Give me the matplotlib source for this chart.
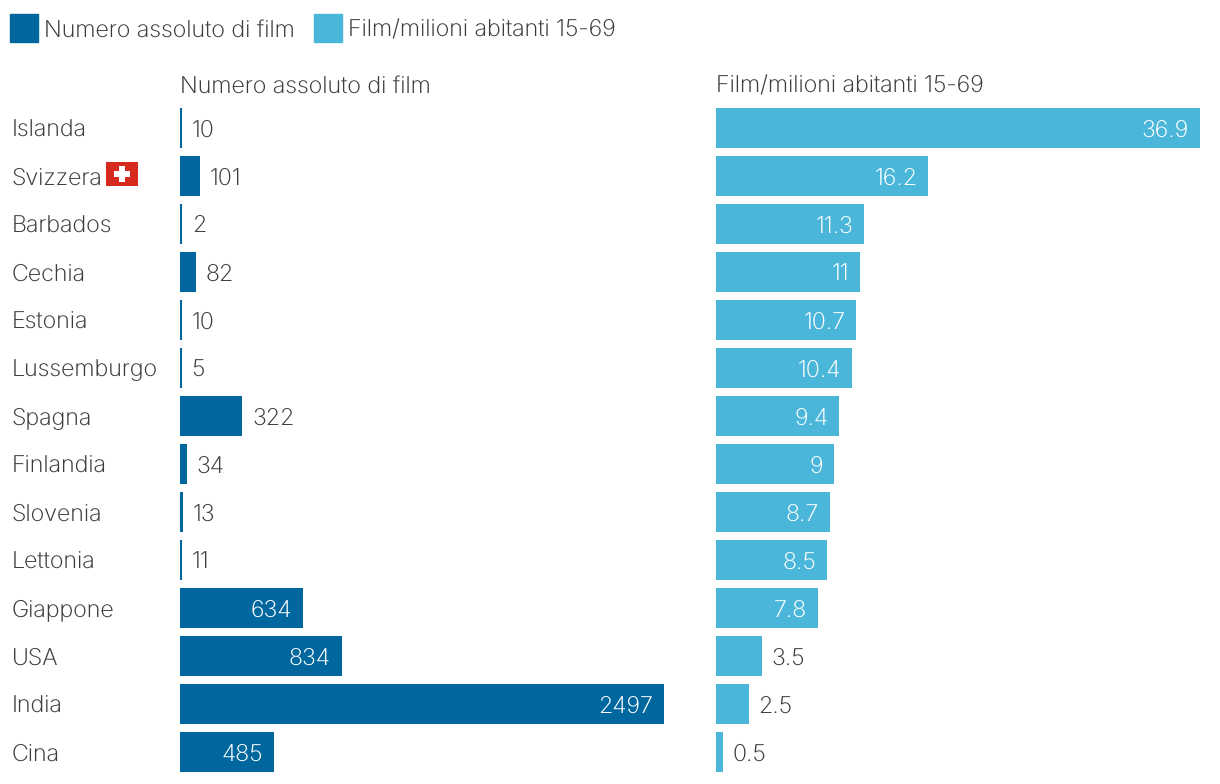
import matplotlib
matplotlib.use("Agg")
import matplotlib.pyplot as plt
from matplotlib.patches import Rectangle

paesi = ["Islanda", "Svizzera", "Barbados", "Cechia", "Estonia", "Lussemburgo", "Spagna",
         "Finlandia", "Slovenia", "Lettonia", "Giappone", "USA", "India", "Cina"]
film_assoluti = [10, 101, 2, 82, 10, 5, 322, 34, 13, 11, 634, 834, 2497, 485]
film_per_milione = [36.9, 16.2, 11.3, 11, 10.7, 10.4, 9.4, 9, 8.7, 8.5, 7.8, 3.5, 2.5, 0.5]
titolo_sx = "Numero assoluto di film"
titolo_dx = "Film/milioni abitanti 15-69"

BLU = "#00679e"
AZZURRO = "#4ab7da"
TESTO = "#3c3c3c"
W, H = 1220, 784
CORPO = 16.7

plt.rcParams["font.family"] = ["Inter", "DejaVu Sans"]
plt.rcParams["text.hinting"] = "no_hinting"
plt.rcParams["text.hinting_factor"] = 1


def assi(fig, x0, x1, y0, y1):
    return fig.add_axes([x0 / W, 1 - y1 / H, (x1 - x0) / W, (y1 - y0) / H])


def barre(ax, valori, colore, vmax, soglia):
    # le barre piccolissime restano comunque larghe 2 px, come nell'originale
    minimo = 2 / 484 * vmax
    ax.barh(range(len(valori)), [max(v, minimo) for v in valori], height=40 / 48, color=colore)
    ax.set_xlim(0, vmax)
    ax.set_ylim(len(valori) - 0.5, -0.5)
    ax.axis("off")
    for i, v in enumerate(valori):
        if v >= soglia:
            ax.annotate(str(v), (v, i), xytext=(-8, 0), textcoords="offset points",
                        ha="right", va="center_baseline", color="white", fontsize=CORPO, fontweight="light")
        else:
            ax.annotate(str(v), (max(v, minimo), i), xytext=(7, 0), textcoords="offset points",
                        ha="left", va="center_baseline", color=TESTO, fontsize=CORPO, fontweight="light")


fig = plt.figure(figsize=(W / 100, H / 100), dpi=100)

ax_sx = assi(fig, 180, 664, 104, 776)
barre(ax_sx, film_assoluti, BLU, 2497, 400)
ax_dx = assi(fig, 716, 1200, 104, 776)
barre(ax_dx, film_per_milione, AZZURRO, 36.9, 5)

for i, p in enumerate(paesi):
    fig.text(12 / W, 1 - (128 + 48 * i) / H, p, ha="left", va="center_baseline",
             fontsize=CORPO, color=TESTO, fontweight="light")

fig.text(180 / W, 1 - 84 / H, titolo_sx, va="center_baseline", fontsize=CORPO, color=TESTO, fontweight="light")
fig.text(716 / W, 1 - 84 / H, titolo_dx, va="center_baseline", fontsize=CORPO, color=TESTO, fontweight="light")

# legenda in alto
fig.add_artist(Rectangle((10 / W, 1 - 42 / H), 28 / W, 28 / H, color=BLU, transform=fig.transFigure))
fig.text(44 / W, 1 - 28 / H, titolo_sx, va="center_baseline", fontsize=CORPO, color=TESTO, fontweight="light")
fig.add_artist(Rectangle((314 / W, 1 - 42 / H), 28 / W, 28 / H, color=AZZURRO, transform=fig.transFigure))
fig.text(348 / W, 1 - 28 / H, titolo_dx, va="center_baseline", fontsize=CORPO, color=TESTO, fontweight="light")

# bandiera svizzera
fig.add_artist(Rectangle((106 / W, 1 - 186 / H), 32 / W, 24 / H, color="#d62a20", lw=0, transform=fig.transFigure))
fig.add_artist(Rectangle((114 / W, 1 - 177 / H), 16 / W, 6 / H, color="white", lw=0, transform=fig.transFigure))
fig.add_artist(Rectangle((119 / W, 1 - 182 / H), 6 / W, 16 / H, color="white", lw=0, transform=fig.transFigure))

fig.savefig("out.png", dpi=100)
